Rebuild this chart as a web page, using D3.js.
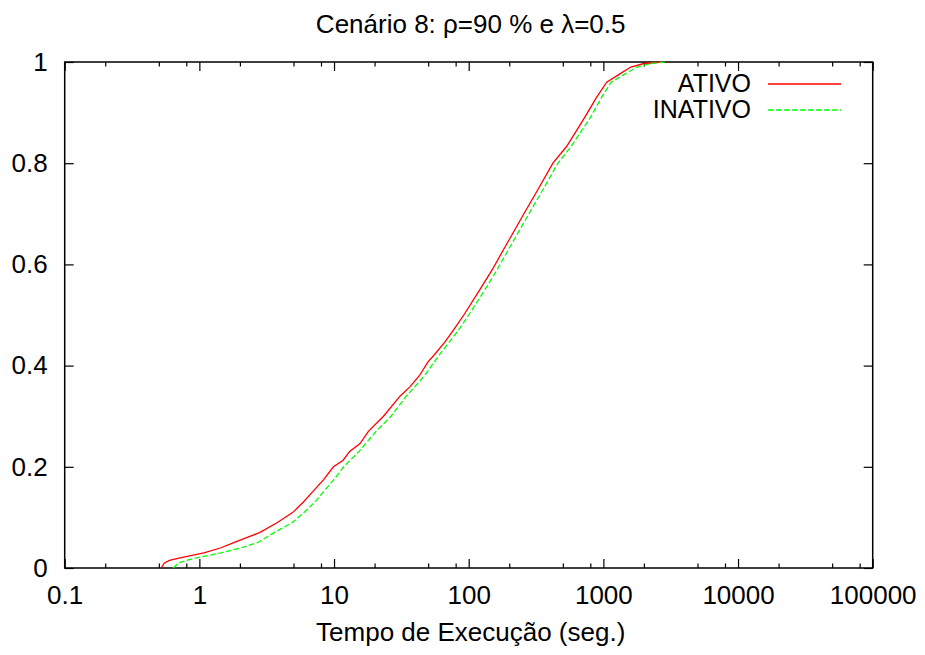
<!DOCTYPE html>
<html>
<head>
<meta charset="utf-8">
<script src="https://cdn.jsdelivr.net/npm/d3@7"></script>
<style>
  html, body { margin: 0; padding: 0; background: #fff; }
  svg text { font-family: "Liberation Sans", Arial, Helvetica, sans-serif; fill: #000; }
</style>
</head>
<body>
<svg id="chart" width="925" height="655"></svg>
<script>
// Empirical CDF of execution time (seconds), log-scaled x axis
const ativoTime = [0.52, 0.55, 0.60, 0.72, 1.08, 1.45, 1.8, 2.8, 3.8, 4.95, 5.9, 6.9, 8.4, 9.9, 11.7, 13.0, 15.6, 18.0, 23.3, 31, 36.6, 43, 50, 55, 66.7, 77, 92, 121, 150, 182, 257, 330, 422, 533, 725, 890, 1059, 1300, 1600, 2000, 2500, 2700];
const ativoCdf  = [0, 0.010, 0.015, 0.020, 0.030, 0.040, 0.050, 0.070, 0.090, 0.110, 0.130, 0.150, 0.175, 0.200, 0.213, 0.230, 0.246, 0.270, 0.300, 0.340, 0.358, 0.380, 0.408, 0.420, 0.447, 0.470, 0.500, 0.550, 0.590, 0.630, 0.700, 0.750, 0.800, 0.833, 0.890, 0.930, 0.960, 0.975, 0.990, 0.997, 0.999, 1.0];

const inativoTime = [0.64, 0.70, 0.80, 0.95, 1.45, 2.05, 2.7, 3.6, 4.9, 6.0, 7.2, 8.3, 10.0, 11.8, 15.3, 20.5, 26.5, 34.5, 47, 60, 72, 84, 100, 132, 163, 198, 280, 360, 460, 575, 800, 970, 1140, 1420, 1780, 2250, 2900];
const inativoCdf  = [0, 0.010, 0.015, 0.020, 0.030, 0.040, 0.050, 0.070, 0.090, 0.110, 0.130, 0.150, 0.175, 0.200, 0.230, 0.270, 0.300, 0.340, 0.380, 0.420, 0.447, 0.470, 0.500, 0.550, 0.590, 0.630, 0.700, 0.750, 0.800, 0.833, 0.890, 0.930, 0.960, 0.975, 0.990, 0.997, 1.0];

const seriesNames = ["ATIVO", "INATIVO"];
const xTickValues = [0.1, 1, 10, 100, 1000, 10000, 100000];
const xTickLabels = ["0.1", "1", "10", "100", "1000", "10000", "100000"];
const yTickValues = [0, 0.2, 0.4, 0.6, 0.8, 1];
const yTickLabels = ["0", "0.2", "0.4", "0.6", "0.8", "1"];

const titleText = "Cenário 8: ρ=90 % e λ=0.5";
const xLabelText = "Tempo de Execução (seg.)";

const plotLeft = 64.7, plotRight = 872.7, plotTop = 62, plotBottom = 568;
const svg = d3.select("#chart");

const x = d3.scaleLog().domain([0.1, 100000]).range([plotLeft, plotRight]);
const y = d3.scaleLinear().domain([0, 1]).range([plotBottom, plotTop]);

// minor ticks at 2, 5 and 8 of every decade
const minorTicks = [];
xTickValues.slice(0, -1).forEach(d => [2, 5, 8].forEach(m => minorTicks.push(d * m)));

const fontSize = 26;
const legendFontSize = 25;

// bottom axis (major + minor, ticks pointing inward)
const gBottom = svg.append("g").attr("transform", `translate(0,${plotBottom})`);
gBottom.call(d3.axisBottom(x).tickValues(xTickValues).tickSize(-9).tickSizeOuter(0)
  .tickPadding(18).tickFormat((d, i) => xTickLabels[i]));
gBottom.append("g").call(d3.axisBottom(x).tickValues(minorTicks).tickSize(-4.5).tickSizeOuter(0).tickFormat(""));

// top mirror ticks
const gTop = svg.append("g").attr("transform", `translate(0,${plotTop})`);
gTop.call(d3.axisTop(x).tickValues(xTickValues).tickSize(-9).tickSizeOuter(0).tickFormat(""));
gTop.append("g").call(d3.axisTop(x).tickValues(minorTicks).tickSize(-4.5).tickSizeOuter(0).tickFormat(""));

// left axis
const gLeft = svg.append("g").attr("transform", `translate(${plotLeft},0)`);
gLeft.call(d3.axisLeft(y).tickValues(yTickValues).tickSize(-9).tickSizeOuter(0)
  .tickPadding(17).tickFormat((d, i) => yTickLabels[i]));

// right mirror ticks
const gRight = svg.append("g").attr("transform", `translate(${plotRight},0)`);
gRight.call(d3.axisRight(y).tickValues(yTickValues).tickSize(-9).tickSizeOuter(0).tickFormat(""));

svg.selectAll(".domain").remove();
svg.selectAll(".tick line").attr("stroke", "#000").attr("stroke-width", 1.2);
svg.selectAll(".tick text")
  .attr("font-size", fontSize)
  .attr("font-family", "'Liberation Sans', Arial, sans-serif")
  .attr("fill", "#000");

// plot frame
svg.append("rect")
  .attr("x", plotLeft).attr("y", plotTop)
  .attr("width", plotRight - plotLeft).attr("height", plotBottom - plotTop)
  .attr("fill", "none").attr("stroke", "#000").attr("stroke-width", 1.5);

// curves
const line = d3.line().x(d => x(d[0])).y(d => y(d[1]));
const ativo = d3.zip(ativoTime, ativoCdf);
const inativo = d3.zip(inativoTime, inativoCdf);

svg.append("path").datum(ativo)
  .attr("d", line).attr("fill", "none")
  .attr("stroke", "#ff0000").attr("stroke-width", 1.3);

svg.append("path").datum(inativo)
  .attr("d", line).attr("fill", "none")
  .attr("stroke", "#00ff00").attr("stroke-width", 1.3)
  .attr("stroke-dasharray", "5.5,2.5");

// legend
const legend = [
  { name: seriesNames[0], color: "#ff0000", dash: null, yText: 92, yLine: 84 },
  { name: seriesNames[1], color: "#00ff00", dash: "5.5,2.5", yText: 118, yLine: 110 }
];
legend.forEach(l => {
  svg.append("text")
    .attr("x", 751).attr("y", l.yText)
    .attr("text-anchor", "end").attr("font-size", legendFontSize)
    .text(l.name);
  svg.append("line")
    .attr("x1", 768).attr("x2", 841)
    .attr("y1", l.yLine).attr("y2", l.yLine)
    .attr("stroke", l.color).attr("stroke-width", 1.3)
    .attr("stroke-dasharray", l.dash);
});

// title and axis label
svg.append("text")
  .attr("x", 470.7).attr("y", 33)
  .attr("text-anchor", "middle").attr("font-size", fontSize)
  .text(titleText);

svg.append("text")
  .attr("x", 470.7).attr("y", 641)
  .attr("text-anchor", "middle").attr("font-size", fontSize)
  .text(xLabelText);
</script>
</body>
</html>
